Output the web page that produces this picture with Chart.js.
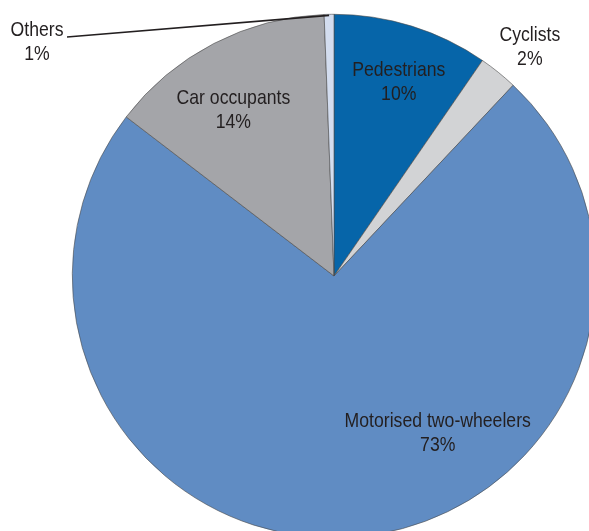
<!DOCTYPE html>
<html>
<head>
<meta charset="utf-8">
<script src="https://cdn.jsdelivr.net/npm/chart.js@4/dist/chart.umd.min.js"></script>
<style>
  html, body { margin: 0; padding: 0; background: #fff; overflow: hidden; width: 589px; height: 531px; }
  #wrap { position: relative; width: 589px; height: 531px; overflow: hidden; }
  canvas { position: absolute; left: 0; top: 0; }
</style>
</head>
<body>
<div id="wrap"><canvas id="pie" width="620" height="560"></canvas></div>
<script>
// data, clockwise from 12 o'clock
const categories = ['Pedestrians', 'Cyclists', 'Motorised two-wheelers', 'Car occupants', 'Others'];
const shares = [9.6, 2.4, 73.4, 14.0, 0.6];
const shareLabels = ['10%', '2%', '73%', '14%', '1%'];
const sliceColors = ['#0665a9', '#d2d3d5', '#608cc3', '#a4a5a9', '#d3ddef'];

// label placement in polar terms: angle from 12 o'clock (deg), radius factor
const labelPolar = [
  [18.5, 0.78],
  [40.6, 1.15],
  [146.6, 0.72],
  [-31.3, 0.74],
  [-62, 1.2]
];

// condensed look: normal sans drawn a bit narrower
const squeeze = 0.84;

const labelPlugin = {
  id: 'sliceLabels',
  afterDatasetsDraw(chart) {
    const ctx = chart.ctx;
    const arcs = chart.getDatasetMeta(0).data;
    const cx = arcs[0].x, cy = arcs[0].y, r = arcs[0].outerRadius;
    ctx.save();
    ctx.fillStyle = '#231f20';
    ctx.textAlign = 'center';
    ctx.textBaseline = 'middle';
    ctx.font = '21px "Liberation Sans", Arial, sans-serif';
    categories.forEach((name, i) => {
      let [deg, f] = labelPolar[i];
      let x = cx + Math.sin(deg * Math.PI / 180) * r * f;
      let y = cy - Math.cos(deg * Math.PI / 180) * r * f;
      if (i === 4) {
        // Others sits far left with a leader line to its thin slice
        x = 37; y = 42;
        const a = arcs[4];
        const mid = (a.startAngle + a.endAngle) / 2;
        ctx.strokeStyle = '#231f20';
        ctx.lineWidth = 1.6;
        ctx.beginPath();
        ctx.moveTo(67, 37);
        ctx.lineTo(cx + Math.cos(mid) * r, cy + Math.sin(mid) * r + 1);
        ctx.stroke();
      }
      ctx.save();
      ctx.translate(x, y);
      ctx.scale(squeeze, 1);
      ctx.fillText(name, 0, -12);
      ctx.fillText(shareLabels[i], 0, 12);
      ctx.restore();
    });
    ctx.restore();
  }
};

new Chart(document.getElementById('pie'), {
  type: 'pie',
  data: {
    labels: categories,
    datasets: [{
      data: shares,
      backgroundColor: sliceColors,
      borderColor: '#4a4a4a',
      borderWidth: 0.6
    }]
  },
  options: {
    responsive: false,
    animation: false,
    layout: { padding: { left: 72, top: 14, right: 24, bottom: 22 } },
    plugins: {
      legend: { display: false },
      tooltip: { enabled: false }
    }
  },
  plugins: [labelPlugin]
});
</script>
</body>
</html>
